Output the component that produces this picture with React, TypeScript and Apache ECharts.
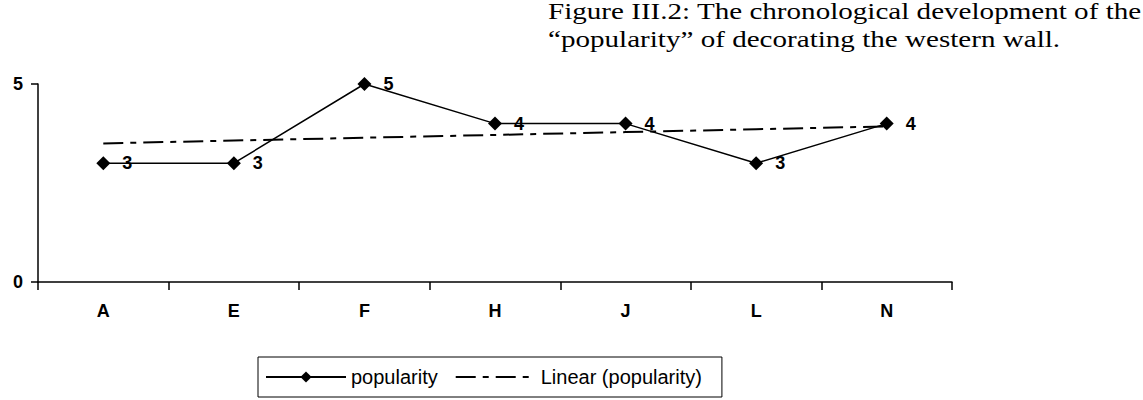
import React, { useEffect, useRef } from "react";
import * as echarts from "echarts";

const categories = ["A", "E", "F", "H", "J", "L", "N"];
const popularity = [3, 3, 5, 4, 4, 3, 4];
const yTicks = [0, 5];
const titleLines = [
  "Figure III.2: The chronological development of the",
  "\u201Cpopularity\u201D of decorating the western wall.",
];

// least-squares linear trend of the popularity series (Excel "Linear" trendline)
function linearTrend(values: number[]): number[] {
  const n = values.length;
  const xs = values.map((_, i) => i + 1);
  const mx = xs.reduce((a, b) => a + b, 0) / n;
  const my = values.reduce((a, b) => a + b, 0) / n;
  let num = 0;
  let den = 0;
  for (let i = 0; i < n; i++) {
    num += (xs[i] - mx) * (values[i] - my);
    den += (xs[i] - mx) * (xs[i] - mx);
  }
  const slope = num / den;
  return xs.map((x) => my + slope * (x - mx));
}

const SANS = "Liberation Sans, Arial, sans-serif";
const SERIF = "Liberation Serif, Times New Roman, serif";

export default function App() {
  const ref = useRef<HTMLDivElement>(null);
  useEffect(() => {
    if (!ref.current) return;
    const chart = echarts.init(ref.current, null, { renderer: "svg" });
    const trend = linearTrend(popularity);
    chart.setOption({
      animation: false,
      backgroundColor: "#ffffff",
      textStyle: { fontFamily: SANS },
      graphic: titleLines.map((line, i) => ({
        type: "text",
        x: 548,
        y: 12 + i * 28,
        scaleX: 1.265,
        style: {
          text: line,
          fontFamily: SERIF,
          fontSize: 23,
          fill: "#000",
          verticalAlign: "middle",
          align: "left",
        },
      })),
      grid: { left: 38, right: 191, top: 84, bottom: 118, containLabel: false },
      legend: {
        left: 258,
        top: 357,
        orient: "horizontal",
        borderColor: "#000",
        borderWidth: 1,
        padding: [10, 20, 10, 7],
        itemGap: 17,
        itemWidth: 80,
        itemHeight: 14,
        textStyle: { fontSize: 20, color: "#000", fontFamily: SANS },
        data: [
          { name: "popularity" },
          { name: "Linear (popularity)", itemStyle: { opacity: 0 } },
        ],
      },
      xAxis: {
        type: "category",
        data: categories,
        boundaryGap: true,
        axisLine: { lineStyle: { color: "#000", width: 1.5 } },
        axisTick: { show: true, inside: false, length: 8, lineStyle: { color: "#000", width: 1.5 } },
        axisLabel: { color: "#000", fontWeight: "bold", fontSize: 18, margin: 20 },
        splitLine: { show: false },
      },
      yAxis: {
        type: "value",
        min: 0,
        max: 5,
        interval: 5,
        axisLine: { show: true, lineStyle: { color: "#000", width: 1.5 } },
        axisTick: { show: true, length: 7, lineStyle: { color: "#000", width: 1.5 } },
        axisLabel: {
          color: "#000",
          fontWeight: "bold",
          fontSize: 18,
          margin: 15,
          customValues: yTicks,
        },
        splitLine: { show: false },
      },
      series: [
        {
          name: "popularity",
          type: "line",
          data: popularity,
          symbol: "diamond",
          symbolSize: 14,
          lineStyle: { color: "#000", width: 1.5 },
          itemStyle: { color: "#000" },
          label: {
            show: true,
            position: "right",
            distance: 12,
            color: "#000",
            fontWeight: "bold",
            fontSize: 18,
          },
          z: 3,
        },
        {
          name: "Linear (popularity)",
          type: "line",
          data: trend,
          symbol: "none",
          lineStyle: { color: "#000", width: 2, type: [20, 7, 6, 7] },
          itemStyle: { color: "#000" },
          z: 2,
        },
      ],
    });
    return () => chart.dispose();
  }, []);
  return (
    <div
      ref={ref}
      style={{ position: "fixed", left: 0, top: 0, width: 1143, height: 400 }}
    />
  );
}
